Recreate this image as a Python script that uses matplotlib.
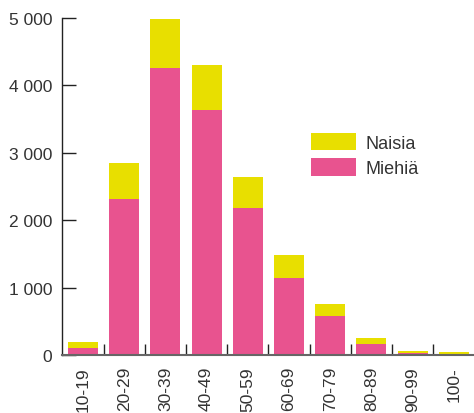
import matplotlib
matplotlib.use("Agg")
import matplotlib.pyplot as plt
import numpy as np
from matplotlib.ticker import FuncFormatter

# age groups and counts
age_groups = ["10-19", "20-29", "30-39", "40-49", "50-59",
              "60-69", "70-79", "80-89", "90-99", "100-"]
men = [100, 2310, 4255, 3630, 2180, 1140, 580, 165, 35, 15]
women = [95, 535, 725, 670, 460, 340, 175, 85, 25, 25]

pink = "#E8538F"
yellow = "#E8DF00"
text_color = "#333333"

plt.rcParams["font.family"] = ["Liberation Sans", "DejaVu Sans"]

fig = plt.figure(figsize=(4.74, 4.14), dpi=100)
ax = fig.add_axes([62 / 474, 1 - 356 / 414, 1 - 62 / 474, (356 - 18.7) / 414])

x = np.arange(len(age_groups))
ax.bar(x, men, width=0.73, color=pink, label="Miehiä", zorder=2)
ax.bar(x, women, width=0.73, bottom=men, color=yellow, label="Naisia", zorder=2)

ax.set_xlim(-0.51, 9.49)
ax.set_ylim(0, 5000)

ax.set_yticks([0, 1000, 2000, 3000, 4000, 5000])
ax.yaxis.set_major_formatter(FuncFormatter(lambda v, p: f"{int(v):,}".replace(",", " ")))
ax.tick_params(axis="y", direction="in", length=10, width=1, color="#222222",
               labelsize=12.5, labelcolor=text_color, pad=7)

ax.set_xticks(x)
ax.set_xticklabels(age_groups, rotation=90)
ax.tick_params(axis="x", which="major", length=0, labelsize=12.5,
               labelcolor=text_color, pad=8)
ax.set_xticks(x[:-1] + 0.5, minor=True)
ax.tick_params(axis="x", which="minor", direction="in", length=8, width=1, color="#222222")

for s in ["top", "right"]:
    ax.spines[s].set_visible(False)
ax.spines["left"].set_color("#222222")
ax.spines["left"].set_linewidth(1)
ax.spines["bottom"].set_color("#666666")
ax.spines["bottom"].set_linewidth(1.5)
ax.spines["bottom"].set_zorder(3)

handles, labels = ax.get_legend_handles_labels()
ax.legend(handles[::-1], labels[::-1], loc="upper left", bbox_to_anchor=(0.565, 0.706),
          frameon=False, fontsize=13, labelcolor=text_color,
          handlelength=2.5, handleheight=1.1, handletextpad=0.5, labelspacing=0.35)

fig.savefig("out.png", dpi=100)
